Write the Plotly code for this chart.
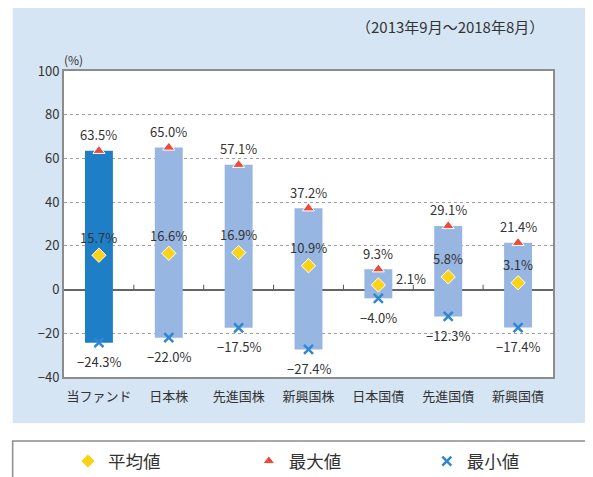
import plotly.graph_objects as go

categories = ["当ファンド", "日本株", "先進国株", "新興国株", "日本国債", "先進国債", "新興国債"]
mean_vals = [15.7, 16.6, 16.9, 10.9, 2.1, 5.8, 3.1]
max_vals = [63.5, 65.0, 57.1, 37.2, 9.3, 29.1, 21.4]
min_vals = [-24.3, -22.0, -17.5, -27.4, -4.0, -12.3, -17.4]
y_ticks = [-40, -20, 0, 20, 40, 60, 80, 100]
period = "（2013年9月～2018年8月）"

FONT = "Noto Sans CJK JP"
TXT = "#333333"
bar_colors = ["#1f7fc6"] + ["#98b6e2"] * (len(categories) - 1)


def pct(v):
    return f"{v:.1f}%".replace("-", "−")


fig = go.Figure()
xs = list(range(len(categories)))

fig.add_trace(go.Bar(
    x=xs, y=[mx - mn for mx, mn in zip(max_vals, min_vals)], base=min_vals,
    marker=dict(color=bar_colors, line=dict(width=0)), width=0.4,
    showlegend=False, hoverinfo="skip"))

fig.add_trace(go.Scatter(
    x=xs, y=mean_vals, mode="markers", name="平均値", legend="legend",
    marker=dict(symbol="diamond", size=11, color="#fbd214",
                line=dict(color="white", width=1))))
fig.add_trace(go.Scatter(
    x=xs, y=max_vals, mode="markers", name="最大値", legend="legend2",
    marker=dict(symbol="triangle-up", size=10.5, color="#ec4b3a",
                line=dict(color="white", width=1))))
fig.add_trace(go.Scatter(
    x=xs, y=min_vals, mode="markers", name="最小値", legend="legend3",
    marker=dict(symbol="x-thin", size=9, color="#2f87d2",
                line=dict(color="#2f87d2", width=2.5))))

LF = dict(size=13, color=TXT, family=FONT)
ann = []
for i, c in enumerate(categories):
    ann.append(dict(x=i, y=max_vals[i], text=pct(max_vals[i]), showarrow=False,
                    yshift=16, font=LF))
    if c == "日本国債":
        ann.append(dict(x=i, y=mean_vals[i], text=pct(mean_vals[i]), showarrow=False,
                        xshift=16, yshift=6, xanchor="left", font=LF))
    else:
        ann.append(dict(x=i, y=mean_vals[i], text=pct(mean_vals[i]), showarrow=False,
                        yshift=18, font=LF))
    ann.append(dict(x=i, y=min_vals[i], text=pct(min_vals[i]), showarrow=False,
                    yshift=-19, font=LF))

ann.append(dict(x=0.0, y=1.039, xref="paper", yref="paper", text="(%)", showarrow=False,
                xanchor="left", yanchor="middle", xshift=-2,
                font=dict(size=12, color=TXT, family=FONT)))
ann.append(dict(x=0.986, y=1.144, xref="paper", yref="paper", text=period, showarrow=False,
                xanchor="right", yanchor="middle",
                font=dict(size=15, color=TXT, family=FONT)))

shapes = [
    dict(type="rect", xref="paper", yref="paper", x0=-0.105, x1=1.2, y0=-0.150, y1=1.25,
         fillcolor="#d6e5f4", line=dict(width=0), layer="below"),
    dict(type="rect", xref="paper", yref="paper", x0=-0.105, x1=1.2, y0=-0.40, y1=-0.209,
         fillcolor="white", line=dict(color="#8c8c8c", width=1.5), layer="below"),
    dict(type="rect", xref="paper", yref="paper", x0=0, x1=1, y0=0, y1=1,
         fillcolor="white", line=dict(width=0), layer="below"),
]
for i in range(len(categories) - 1):
    shapes.append(dict(type="line", x0=i + 0.5, x1=i + 0.5, y0=0, y1=2.2,
                       line=dict(color="#555555", width=1)))

leg_common = dict(orientation="h", y=-0.275, xanchor="left", yanchor="middle",
                  font=dict(size=17.5, color=TXT, family=FONT),
                  bgcolor="rgba(0,0,0,0)", itemclick=False, itemwidth=30)

# page body adds an 8px offset; figure is sized to fill the rest of the window
fig.update_layout(
    width=585, height=469,
    margin=dict(l=56, r=40, t=63, b=100, autoexpand=False),
    paper_bgcolor="white", plot_bgcolor="white",
    font=dict(family=FONT, color=TXT),
    annotations=ann, shapes=shapes,
    legend=dict(x=0.008, **leg_common),
    legend2=dict(x=0.378, **leg_common),
    legend3=dict(x=0.742, **leg_common),
    xaxis=dict(tickvals=xs, ticktext=categories, range=[-0.5, len(categories) - 0.5],
               showgrid=False, zeroline=False, ticks="", ticklabelstandoff=6,
               showline=True, linecolor="#8c8c8c", linewidth=2, mirror=True,
               tickfont=dict(size=13, color=TXT, family=FONT)),
    yaxis=dict(tickvals=y_ticks, range=[-40, 100],
               showgrid=True, gridcolor="#a0a0a0", griddash="dot", gridwidth=1,
               zeroline=True, zerolinecolor="#666666", zerolinewidth=1.5,
               showline=True, linecolor="#8c8c8c", linewidth=2, mirror=True,
               ticks="", tickfont=dict(size=13, color=TXT, family=FONT)),
)

fig.write_html("out.html")
